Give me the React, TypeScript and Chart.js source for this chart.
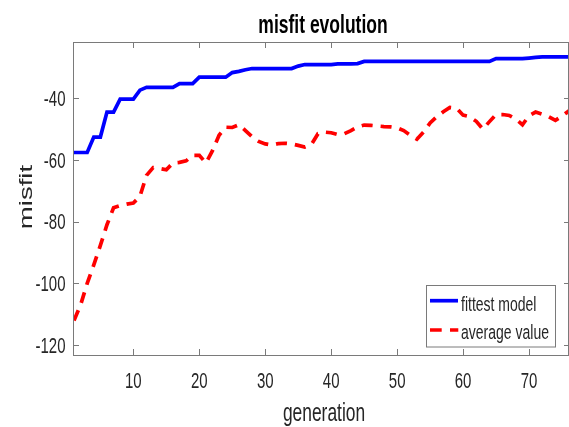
import React, { useEffect, useRef } from "react";
import { Chart, registerables } from "chart.js";

Chart.register(...registerables);

// ---- data ----
const generations: number[] = Array.from({ length: 77 }, (_, i) => i + 1);

const fittestModel: number[] = [
  -57.6, -57.6, -57.6, -52.6, -52.6, -44.5, -44.5, -40.3, -40.3, -40.3,
  -37.4, -36.5, -36.5, -36.5, -36.5, -36.5, -35.3, -35.3, -35.3, -33.2,
  -33.2, -33.2, -33.2, -33.2, -31.7, -31.3, -30.8, -30.4, -30.4, -30.4,
  -30.4, -30.4, -30.4, -30.4, -29.6, -29.1, -29.1, -29.1, -29.1, -29.1,
  -28.9, -28.9, -28.9, -28.8, -28.1, -28.1, -28.1, -28.1, -28.1, -28.1,
  -28.1, -28.1, -28.1, -28.1, -28.1, -28.1, -28.1, -28.1, -28.1, -28.1,
  -28.1, -28.1, -28.1, -28.1, -27.2, -27.2, -27.2, -27.2, -27.2, -27.0,
  -26.8, -26.6, -26.6, -26.6, -26.6, -26.6, -26.6,
];

const averageValue: number[] = [
  -112, -107, -100, -94, -87.7, -81, -75.5, -74.8, -74.3, -74,
  -71.8, -65, -62.5, -62.8, -63.2, -61, -60.8, -60.3, -58.5, -58.5,
  -61, -57, -52, -49.4, -49.5, -48.6, -50.5, -52.5, -54, -54.8,
  -55.2, -54.7, -54.6, -54.8, -55.3, -55.8, -55, -51.5, -51, -51.2,
  -51.8, -51.5, -50.5, -49.3, -48.7, -48.8, -49, -49.2, -49.3, -49.6,
  -50.5, -52, -53.3, -51, -48, -46, -44.4, -43, -43.2, -45.5,
  -46, -47.5, -50, -47.6, -45.3, -45.3, -45.6, -46.8, -48.6, -45.7,
  -44.5, -45.2, -46, -47.2, -45.8, -44.2, -50,
];

const xTickValues: number[] = [10, 20, 30, 40, 50, 60, 70];
const yTickValues: number[] = [-120, -100, -80, -60, -40];
const seriesNames: string[] = ["fittest model", "average value"];
const titleText = "misfit evolution";
const xTitleText = "generation";
const yTitleText = "misfit";

// ---- styling ----
const FONT = '"Liberation Sans", Arial, sans-serif';
const STRETCH = 1.45;
const BLUE = "#0000ff";
const RED = "#ff0000";
const AXIS = "#7a7a7a";
const TEXT = "#262626";

function drawText(
  ctx: CanvasRenderingContext2D,
  text: string,
  x: number,
  y: number,
  font: string,
  align: CanvasTextAlign,
  color: string,
  rotated = false
) {
  ctx.save();
  ctx.translate(x, y);
  if (rotated) {
    ctx.rotate(-Math.PI / 2);
    ctx.scale(STRETCH, 1);
  } else {
    ctx.scale(1, STRETCH);
  }
  ctx.font = font;
  ctx.textAlign = align;
  ctx.textBaseline = "alphabetic";
  ctx.fillStyle = color;
  ctx.fillText(text, 0, 0);
  ctx.restore();
}

const framePlugin = {
  id: "matlabFrame",
  afterDraw(chart: any) {
    const ctx: CanvasRenderingContext2D = chart.ctx;
    const a = chart.chartArea;
    const xs = chart.scales.x;
    const ys = chart.scales.y;
    ctx.save();
    // box
    ctx.strokeStyle = AXIS;
    ctx.lineWidth = 1;
    ctx.strokeRect(a.left - 0.5, a.top + 0.5, a.right - a.left, a.bottom - a.top);
    // ticks
    ctx.beginPath();
    for (const v of xTickValues) {
      const px = Math.round(xs.getPixelForValue(v)) + 0.5;
      ctx.moveTo(px, a.bottom);
      ctx.lineTo(px, a.bottom - 6);
      ctx.moveTo(px, a.top);
      ctx.lineTo(px, a.top + 6);
    }
    for (const v of yTickValues) {
      const py = Math.round(ys.getPixelForValue(v)) + 0.5;
      ctx.moveTo(a.left, py);
      ctx.lineTo(a.left + 5, py);
      ctx.moveTo(a.right, py);
      ctx.lineTo(a.right - 5, py);
    }
    ctx.stroke();

    // tick labels
    const tickFont = `15px ${FONT}`;
    for (const v of xTickValues) {
      drawText(ctx, String(v), xs.getPixelForValue(v), 388, tickFont, "center", TEXT);
    }
    for (const v of yTickValues) {
      drawText(ctx, String(v), a.left - 8.5, ys.getPixelForValue(v) + 7.8, tickFont, "right", TEXT);
    }

    // titles
    drawText(ctx, titleText, 323, 33, `bold 17.5px ${FONT}`, "center", "#000000");
    drawText(ctx, xTitleText, 324, 421, `17.4px ${FONT}`, "center", TEXT);
    drawText(ctx, yTitleText, 32, 197, `19px ${FONT}`, "center", TEXT, true);

    // legend
    const lx = 426, ly = 285, lw = 129, lh = 61.5;
    ctx.fillStyle = "#ffffff";
    ctx.fillRect(lx, ly, lw, lh);
    ctx.strokeStyle = AXIS;
    ctx.lineWidth = 1;
    ctx.strokeRect(lx + 0.5, ly + 0.5, lw, lh);
    ctx.lineCap = "butt";
    ctx.lineWidth = 3.7;
    ctx.strokeStyle = BLUE;
    ctx.beginPath();
    ctx.moveTo(430, 300.7);
    ctx.lineTo(458, 300.7);
    ctx.stroke();
    ctx.strokeStyle = RED;
    ctx.beginPath();
    ctx.moveTo(430, 330);
    ctx.lineTo(441.7, 330);
    ctx.moveTo(450, 330);
    ctx.lineTo(458.3, 330);
    ctx.stroke();
    const legFont = `14px ${FONT}`;
    drawText(ctx, seriesNames[0], 461, 311, legFont, "left", TEXT);
    drawText(ctx, seriesNames[1], 461, 339, legFont, "left", TEXT);
    ctx.restore();
  },
};

export default function App() {
  const canvasRef = useRef<HTMLCanvasElement | null>(null);

  useEffect(() => {
    const canvas = canvasRef.current;
    if (!canvas) return;
    const chart = new Chart(canvas, {
      type: "line",
      data: {
        labels: generations,
        datasets: [
          {
            label: seriesNames[0],
            data: fittestModel,
            borderColor: BLUE,
            backgroundColor: BLUE,
            borderWidth: 3.7,
            pointRadius: 0,
            tension: 0,
            fill: false,
          },
          {
            label: seriesNames[1],
            data: averageValue,
            borderColor: RED,
            backgroundColor: RED,
            borderWidth: 3.7,
            borderDash: [11, 8],
            borderCapStyle: "butt",
            pointRadius: 0,
            tension: 0,
            fill: false,
          },
        ],
      },
      options: {
        responsive: false,
        animation: false,
        events: [],
        layout: { padding: { top: 42, left: 0, right: 0, bottom: 0 } },
        plugins: {
          legend: { display: false },
          title: { display: false },
          tooltip: { enabled: false },
        },
        scales: {
          x: {
            type: "linear",
            min: 1,
            max: 76.06,
            grid: { display: false, drawTicks: false },
            border: { display: false },
            ticks: { display: false },
            afterBuildTicks: (s: any) => {
              s.ticks = xTickValues.map((v) => ({ value: v }));
            },
            afterFit: (s: any) => {
              s.height = 72;
            },
          },
          y: {
            type: "linear",
            min: -123.2,
            max: -21.8,
            grid: { display: false, drawTicks: false },
            border: { display: false },
            ticks: { display: false },
            afterBuildTicks: (s: any) => {
              s.ticks = yTickValues.map((v) => ({ value: v }));
            },
            afterFit: (s: any) => {
              s.width = 74;
            },
          },
        },
      },
      plugins: [framePlugin],
    } as any);
    return () => chart.destroy();
  }, []);

  return (
    <div style={{ position: "absolute", left: 0, top: 0, width: 569, height: 427, background: "#ffffff" }}>
      <canvas ref={canvasRef} width={569} height={427} style={{ width: 569, height: 427, display: "block" }} />
    </div>
  );
}
